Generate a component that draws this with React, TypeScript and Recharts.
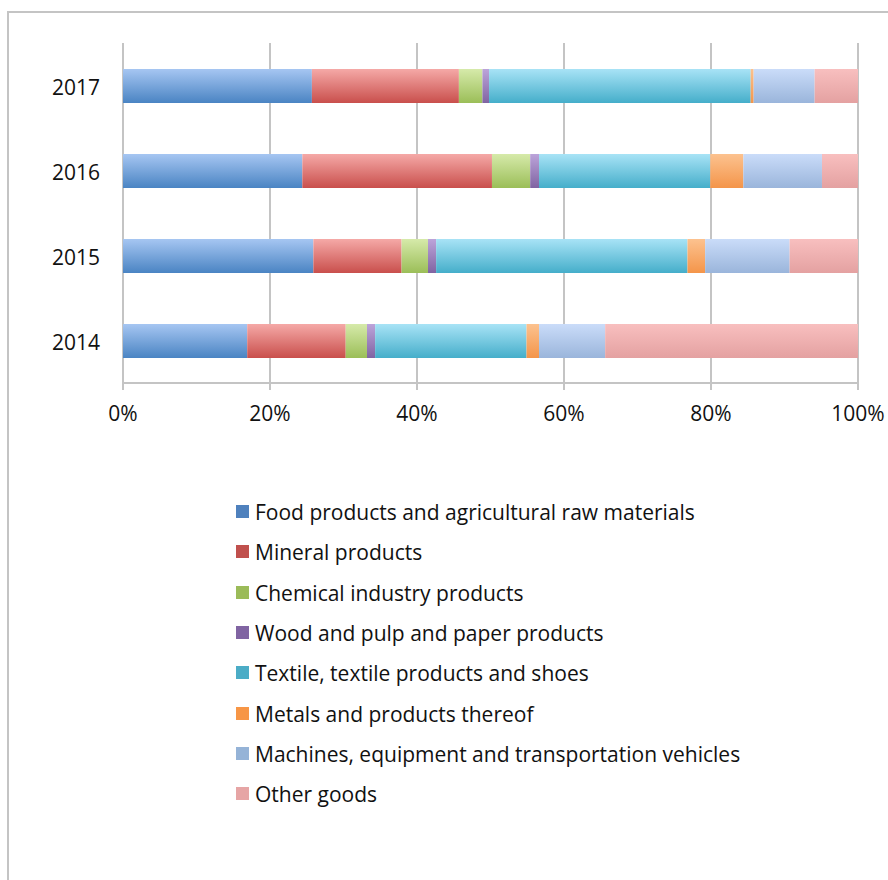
import { Bar, BarChart, CartesianGrid, Legend, XAxis, YAxis } from 'recharts';

// Export structure by product group, 100% stacked, 2014–2017.

const YEARS = ['2017', '2016', '2015', '2014'];

const FOOD = [25.7, 24.4, 25.9, 16.9];
const MINERAL = [20.0, 25.8, 12.0, 13.4];
const CHEMICAL = [3.2, 5.2, 3.6, 2.9];
const WOOD = [0.9, 1.2, 1.1, 1.1];
const TEXTILE = [35.6, 23.3, 34.2, 20.6];
const METALS = [0.4, 4.5, 2.4, 1.7];
const MACHINES = [8.3, 10.7, 11.5, 9.0];
const OTHER = [5.9, 4.9, 9.3, 34.4];

const X_TICKS = [0, 20, 40, 60, 80, 100];

const SERIES = [
  { key: 'food', name: 'Food products and agricultural raw materials', values: FOOD, top: '#A6C6F2', bottom: '#4A84C3', swatch: '#4F81BD' },
  { key: 'mineral', name: 'Mineral products', values: MINERAL, top: '#F5A9A7', bottom: '#C94F4C', swatch: '#C0504D' },
  { key: 'chemical', name: 'Chemical industry products', values: CHEMICAL, top: '#D6EAAA', bottom: '#9BBE58', swatch: '#9BBB59' },
  { key: 'wood', name: 'Wood and pulp and paper products', values: WOOD, top: '#BCA4DA', bottom: '#8064A2', swatch: '#8064A2' },
  { key: 'textile', name: 'Textile, textile products and shoes', values: TEXTILE, top: '#A8E3F6', bottom: '#45AECA', swatch: '#4BACC6' },
  { key: 'metals', name: 'Metals and products thereof', values: METALS, top: '#FCC28F', bottom: '#F4954A', swatch: '#F79646' },
  { key: 'machines', name: 'Machines, equipment and transportation vehicles', values: MACHINES, top: '#CADCF9', bottom: '#9AB5DB', swatch: '#95B3D7' },
  { key: 'other', name: 'Other goods', values: OTHER, top: '#F8BFBF', bottom: '#E4A1A1', swatch: '#E6A5A5' },
];

const data = YEARS.map((year, i) => {
  const row: Record<string, string | number> = { year };
  for (const s of SERIES) row[s.key] = s.values[i];
  return row;
});

const FONT = '"Open Sans", Lato, sans-serif';
const INK = '#111111';
const GRID = '#C4C4C4';

function LegendBox() {
  return (
    <div style={{ fontFamily: FONT, fontSize: 21, color: INK }}>
      {SERIES.map((s) => (
        <div key={s.key} style={{ display: 'flex', alignItems: 'center', height: 40.3 }}>
          <span
            style={{
              display: 'inline-block',
              width: 13,
              height: 13,
              background: s.swatch,
              marginRight: 6,
              marginTop: -1,
            }}
          />
          <span>{s.name}</span>
        </div>
      ))}
    </div>
  );
}

export default function App() {
  return (
    <div style={{ position: 'absolute', left: 0, top: 0, width: 888, height: 880, background: '#fff', overflow: 'hidden' }}>
      <div
        style={{
          position: 'absolute',
          left: 7,
          top: 11,
          width: 1000,
          height: 1000,
          borderLeft: `2px solid ${GRID}`,
          borderTop: `2px solid ${GRID}`,
        }}
      />
      <div style={{ position: 'absolute', left: 0, top: 0 }}>
        <BarChart
          width={888}
          height={880}
          data={data}
          layout="vertical"
          margin={{ top: 43, right: 30, bottom: 457, left: 53 }}
        >
          <defs>
            {SERIES.map((s) => (
              <linearGradient key={s.key} id={`grad-${s.key}`} x1="0" y1="0" x2="0" y2="1">
                <stop offset="0%" stopColor={s.top} />
                <stop offset="100%" stopColor={s.bottom} />
              </linearGradient>
            ))}
          </defs>
          <CartesianGrid horizontal={false} stroke={GRID} strokeWidth={2} />
          <XAxis
            type="number"
            domain={[0, 100]}
            ticks={X_TICKS}
            tickFormatter={(v: number) => `${v}%`}
            height={40}
            axisLine={{ stroke: GRID, strokeWidth: 2 }}
            tickLine={{ stroke: GRID, strokeWidth: 2 }}
            tickSize={7}
            tickMargin={16}
            tick={{ fontFamily: FONT, fontSize: 21, fill: INK }}
          />
          <YAxis
            yAxisId="frame"
            type="number"
            domain={[0, 4]}
            ticks={[0, 1, 2, 3, 4]}
            width={0}
            tick={false}
            tickSize={7}
            axisLine={{ stroke: GRID, strokeWidth: 2 }}
            tickLine={{ stroke: GRID, strokeWidth: 2 }}
          />
          <YAxis
            yAxisId="cat"
            type="category"
            dataKey="year"
            width={70}
            axisLine={false}
            tickLine={false}
            tickSize={0}
            tickMargin={23}
            tick={{ fontFamily: FONT, fontSize: 21, fill: INK, dy: 2 }}
          />
          <Legend
            layout="vertical"
            align="center"
            verticalAlign="middle"
            wrapperStyle={{ left: 236, top: 492, width: 640 }}
            content={() => <LegendBox />}
          />
          {SERIES.map((s) => (
            <Bar
              key={s.key}
              yAxisId="cat"
              dataKey={s.key}
              name={s.name}
              stackId="share"
              barSize={34}
              fill={`url(#grad-${s.key})`}
              isAnimationActive={false}
            />
          ))}
        </BarChart>
      </div>
    </div>
  );
}
